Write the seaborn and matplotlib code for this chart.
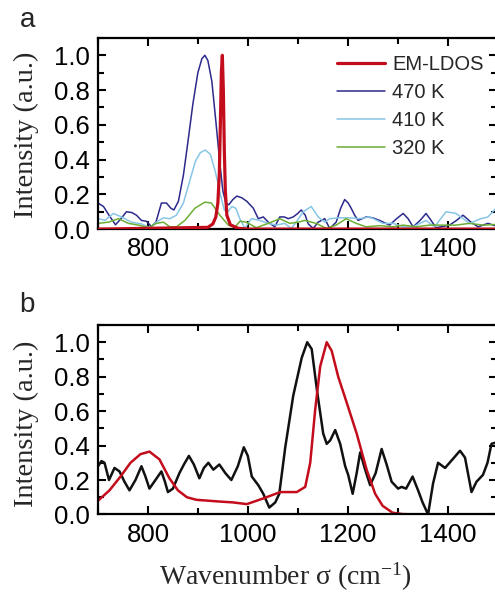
import matplotlib
matplotlib.use("Agg")
import matplotlib.pyplot as plt
import seaborn as sns
from matplotlib.ticker import MultipleLocator

# ---------------- data (panel a) ----------------
em_x = [700, 920, 930, 936, 940, 943, 945, 947, 949, 951, 953, 955, 958, 965, 980, 1000, 1500]
em_y = [0, 0.01, 0.03, 0.07, 0.15, 0.32, 0.6, 0.9, 1.0, 0.8, 0.45, 0.22, 0.08, 0.025, 0.005, 0, 0]

k470_x = [700, 711, 722, 735, 746, 757, 768, 777, 787, 797, 807, 816, 827, 837, 846, 852, 861,
          871, 880, 890, 900, 908, 914, 920, 928, 936, 944, 950, 956, 962, 970, 978, 988, 998,
          1011, 1021, 1031, 1041, 1054, 1064, 1073, 1081, 1091, 1100, 1107, 1115, 1121, 1131,
          1141, 1154, 1164, 1177, 1186, 1194, 1201, 1207, 1214, 1221, 1237, 1250, 1264, 1284,
          1298, 1311, 1321, 1331, 1345, 1357, 1367, 1377, 1390, 1404, 1418, 1431, 1447, 1461,
          1481, 1500]
k470_y = [0.15, 0.13, 0.08, 0.025, 0.06, 0.10, 0.095, 0.08, 0.05, 0.045, 0.015, 0.04, 0.15,
          0.15, 0.12, 0.11, 0.16, 0.31, 0.5, 0.72, 0.9, 0.98, 1.0, 0.97, 0.85, 0.62, 0.38, 0.22,
          0.15, 0.14, 0.17, 0.19, 0.18, 0.16, 0.12, 0.06, 0.07, 0.04, 0.013, 0.07, 0.07, 0.06,
          0.07, 0.09, 0.11, 0.08, 0.03, 0.004, 0.04, 0.06, 0.004, 0.04, 0.12, 0.17, 0.15, 0.12,
          0.08, 0.05, 0.07, 0.065, 0.05, 0.023, 0.06, 0.09, 0.06, 0.013, 0.05, 0.09, 0.05, 0.008,
          0.015, 0.023, 0.05, 0.08, 0.04, 0.013, 0.033, 0.015]

k410_x = [700, 714, 731, 747, 767, 787, 804, 817, 831, 844, 857, 871, 884, 895, 905, 915, 925,
          935, 945, 953, 960, 968, 976, 984, 994, 1007, 1024, 1041, 1057, 1074, 1087, 1097, 1111,
          1127, 1141, 1154, 1164, 1184, 1204, 1224, 1244, 1271, 1291, 1311, 1331, 1357, 1374,
          1397, 1417, 1444, 1467, 1481, 1500]
k410_y = [0.06, 0.05, 0.09, 0.07, 0.04, 0.03, 0.008, 0.04, 0.065, 0.06, 0.08, 0.15, 0.28, 0.39,
          0.44, 0.455, 0.43, 0.33, 0.2, 0.11, 0.10, 0.13, 0.12, 0.06, 0.005, 0.06, 0.05, 0.033,
          0.023, 0.033, 0.004, 0.04, 0.10, 0.13, 0.07, 0.04, 0.06, 0.065, 0.065, 0.06, 0.07,
          0.033, 0.033, 0.013, 0.013, 0.05, 0.013, 0.10, 0.09, 0.033, 0.06, 0.07, 0.13]

k320_x = [700, 721, 741, 761, 781, 801, 817, 831, 844, 857, 874, 894, 914, 927, 944, 961, 974,
          984, 997, 1017, 1041, 1064, 1084, 1101, 1114, 1137, 1157, 1177, 1197, 1217, 1237, 1264,
          1291, 1311, 1337, 1364, 1391, 1417, 1444, 1471, 1500]
k320_y = [0.033, 0.04, 0.06, 0.033, 0.023, 0.008, 0.033, 0.04, 0.013, 0.013, 0.05, 0.12, 0.155,
          0.15, 0.08, 0.023, 0.01, 0.045, 0.04, 0.008, 0.033, 0.06, 0.033, 0.04, 0.05, 0.033,
          0.004, 0.023, 0.06, 0.033, 0.013, 0.02, 0.013, 0.023, 0.013, 0.023, 0.023, 0.023, 0.033,
          0.023, 0.027]

# ---------------- data (panel b) ----------------
blk_x = [700, 707, 713, 722, 733, 743, 753, 763, 775, 787, 795, 803, 815, 827, 834, 840, 850,
         863, 872, 882, 892, 903, 912, 921, 931, 943, 955, 967, 980, 992, 1000, 1008, 1021, 1031,
         1043, 1055, 1063, 1075, 1091, 1108, 1119, 1128, 1139, 1151, 1158, 1165, 1175, 1185, 1195,
         1201, 1210, 1218, 1225, 1235, 1245, 1256, 1268, 1278, 1288, 1301, 1308, 1317, 1330, 1341,
         1350, 1361, 1371, 1381, 1395, 1410, 1425, 1435, 1448, 1458, 1471, 1480, 1488, 1500]
blk_y = [0.28, 0.31, 0.30, 0.20, 0.27, 0.25, 0.19, 0.14, 0.20, 0.28, 0.22, 0.15, 0.20, 0.25,
         0.19, 0.13, 0.15, 0.24, 0.29, 0.34, 0.29, 0.21, 0.27, 0.30, 0.26, 0.29, 0.24, 0.20, 0.28,
         0.39, 0.34, 0.22, 0.17, 0.12, 0.04, 0.07, 0.12, 0.39, 0.69, 0.91, 1.0, 0.96, 0.71, 0.47,
         0.41, 0.43, 0.49, 0.41, 0.28, 0.23, 0.12, 0.24, 0.36, 0.26, 0.17, 0.24, 0.38, 0.29, 0.19,
         0.15, 0.16, 0.15, 0.22, 0.14, 0.07, 0.0, 0.18, 0.30, 0.27, 0.32, 0.37, 0.33, 0.13, 0.19,
         0.23, 0.30, 0.41, 0.42]

red_x = [700, 723, 745, 765, 785, 803, 823, 843, 860, 878, 897, 920, 943, 970, 998, 1031, 1065,
         1098, 1115, 1125, 1135, 1145, 1158, 1168, 1181, 1198, 1218, 1238, 1255, 1270, 1290, 1310,
         1340, 1430]
red_y = [0.08, 0.14, 0.22, 0.30, 0.35, 0.365, 0.32, 0.21, 0.14, 0.10, 0.085, 0.08, 0.075, 0.07,
         0.06, 0.093, 0.13, 0.13, 0.16, 0.30, 0.61, 0.86, 1.0, 0.95, 0.80, 0.65, 0.47, 0.26, 0.12,
         0.05, 0.01, 0.002, 0, 0]

x_ticks = [800, 1000, 1200, 1400]
y_ticks = [0.0, 0.2, 0.4, 0.6, 0.8, 1.0]

# ---------------- style ----------------
RED = "#c30d1c"
NAVY = "#2c2a8c"
LBLUE = "#88c6e6"
GREEN = "#6cae34"
BLACK = "#111111"

sns.set_theme(style="ticks")
plt.rcParams["font.family"] = ["Liberation Sans", "DejaVu Sans"]
plt.rcParams["mathtext.fontset"] = "custom"
plt.rcParams["mathtext.rm"] = "Liberation Serif"
plt.rcParams["mathtext.it"] = "Liberation Serif:italic"

fig = plt.figure(figsize=(4.95, 5.92), dpi=100)
axa = fig.add_axes([0.198, 0.613, 0.807, 0.323])
axb = fig.add_axes([0.198, 0.131, 0.807, 0.320])

def style_axes(ax, ylab_y):
    ax.set_xlim(700, 1500)
    ax.set_ylim(0, 1.1)
    ax.set_xticks(x_ticks)
    ax.set_yticks(y_ticks)
    ax.set_yticklabels([f"{v:.1f}" for v in y_ticks])
    ax.xaxis.set_minor_locator(MultipleLocator(100))
    ax.yaxis.set_minor_locator(MultipleLocator(0.1))
    ax.tick_params(which="both", direction="in", top=True, right=True, width=1.5,
                   labelsize=18.5, colors="black", pad=6)
    ax.tick_params(which="major", length=6)
    ax.tick_params(which="minor", length=4)
    for s in ax.spines.values():
        s.set_linewidth(1.6)
        s.set_color("black")
    ax.set_ylabel("Intensity (a.u.)", family="Liberation Serif", fontsize=20.5)
    ax.yaxis.set_label_coords(-0.147, ylab_y)
    ax.set_xlabel("")

# panel a
sns.lineplot(x=k470_x, y=k470_y, ax=axa, color=NAVY, lw=1.1, sort=False, estimator=None, label="470 K")
sns.lineplot(x=k410_x, y=k410_y, ax=axa, color=LBLUE, lw=1.1, sort=False, estimator=None, label="410 K")
sns.lineplot(x=k320_x, y=k320_y, ax=axa, color=GREEN, lw=1.1, sort=False, estimator=None, label="320 K")
sns.lineplot(x=em_x, y=em_y, ax=axa, color=RED, lw=2.3, sort=False, estimator=None, label="EM-LDOS", zorder=5)
style_axes(axa, 0.495)
h, l = axa.get_legend_handles_labels()
order = [3, 0, 1, 2]
axa.legend([h[i] for i in order], [l[i] for i in order], loc="upper right",
           bbox_to_anchor=(0.995, 0.975), frameon=False, fontsize=14.5, handlelength=2.4,
           handletextpad=0.35, labelspacing=0.45, borderaxespad=0.2)

# panel b
sns.lineplot(x=blk_x, y=blk_y, ax=axb, color=BLACK, lw=1.8, sort=False, estimator=None)
sns.lineplot(x=red_x, y=red_y, ax=axb, color=RED, lw=1.8, sort=False, estimator=None)
style_axes(axb, 0.48)
axb.set_xlabel(r"Wavenumber σ (cm$^{\mathrm{-1}}$)", family="Liberation Serif", fontsize=20)
axb.xaxis.set_label_coords(0.47, -0.247)

fig.text(0.055, 0.955, "a", fontsize=20, ha="center", va="baseline")
fig.text(0.055, 0.473, "b", fontsize=20, ha="center", va="baseline")

fig.savefig("out.png", dpi=100)
